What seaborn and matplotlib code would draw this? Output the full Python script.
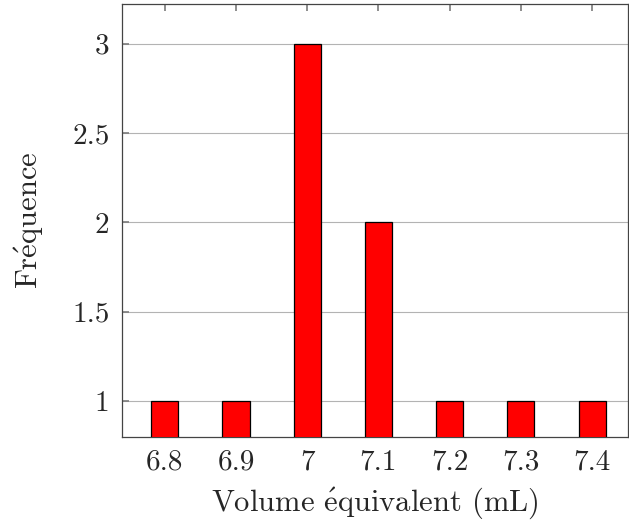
import matplotlib
matplotlib.use("Agg")
import matplotlib.pyplot as plt
import seaborn as sns

# données
volumes = [6.8, 6.9, 7.0, 7.1, 7.2, 7.3, 7.4]
frequences = [1, 1, 3, 2, 1, 1, 1]
xtick_labels = ["6.8", "6.9", "7", "7.1", "7.2", "7.3", "7.4"]
ytick_values = [1, 1.5, 2, 2.5, 3]
ytick_labels = ["1", "1.5", "2", "2.5", "3"]

sns.set_theme(style="white")
plt.rcParams["font.family"] = ["cmr10", "DejaVu Serif"]
plt.rcParams["mathtext.fontset"] = "cm"
plt.rcParams["axes.formatter.use_mathtext"] = True

fig = plt.figure(figsize=(6.29, 5.20), dpi=100)
ax = fig.add_axes([0.194, 0.1596, 0.804, 0.8324])

sns.barplot(x=volumes, y=frequences, native_scale=True, width=0.38,
            color="red", saturation=1, edgecolor="black", linewidth=0.9, ax=ax, zorder=3)

ax.set_xlim(6.74, 7.45)
ax.set_ylim(0.8, 3.22)
ax.set_xticks(volumes)
ax.set_xticklabels(xtick_labels)
ax.set_yticks(ytick_values)
ax.set_yticklabels(ytick_labels)
ax.yaxis.grid(True, color="#b3b3b3", linewidth=0.8, zorder=0)
ax.set_axisbelow(True)

for s in ax.spines.values():
    s.set_color("#444444")
    s.set_linewidth(0.9)

ax.tick_params(axis="x", direction="in", top=True, bottom=False, length=5,
               color="#808080", labelsize=21, pad=9)
ax.tick_params(axis="y", direction="in", left=True, right=False, length=5,
               color="#808080", labelsize=21, pad=9)

ax.set_xlabel(r"Volume $\acute{\mathrm{e}}$quivalent (mL)", fontsize=22, labelpad=7)
ax.set_ylabel(r"Fr$\acute{\mathrm{e}}$quence", fontsize=22, labelpad=19)

fig.savefig("out.png", dpi=100)
